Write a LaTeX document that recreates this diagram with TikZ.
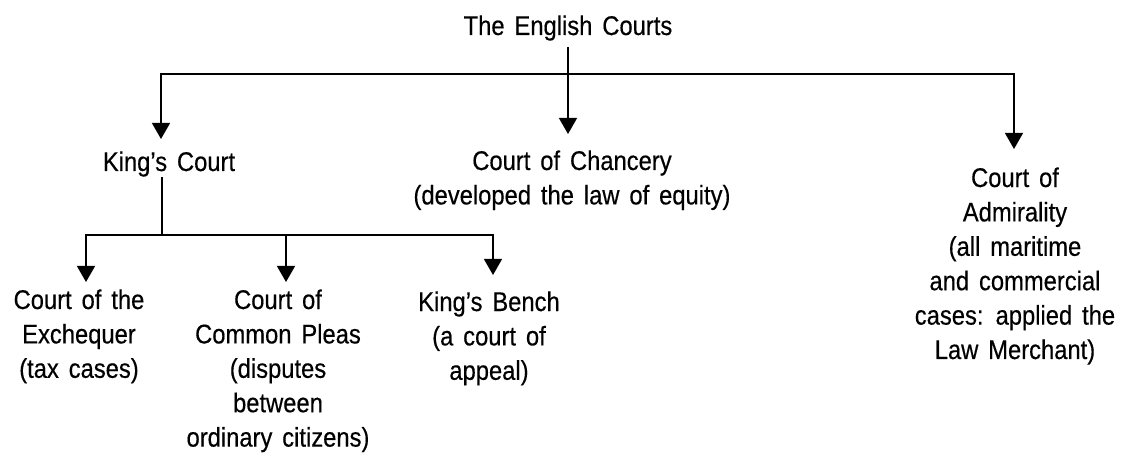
\documentclass[tikz,border=0pt]{standalone}
\usepackage{fontspec}
\setmainfont{Liberation Sans}[FakeStretch=0.88,WordSpace=1.5,FakeBold=0.4]
\usetikzlibrary{arrows.meta}
\begin{document}
\begin{tikzpicture}[x=1pt,y=-1pt,
  label/.style={inner sep=0pt,anchor=base,align=center,
    font=\fontsize{27}{34.4}\selectfont},
  link/.style={line width=1.3pt,draw=black},
  arr/.style={link,-{Triangle[width=18pt,length=16pt]}}]
\useasboundingbox (0,0) rectangle (1125,454);

% texts (each placed by the baseline of its last line)
\node[label] (T)  at (568,35)     {The English Courts};
\node[label] (KC) at (169,171)    {King’s Court};
\node[label] (CH) at (572,204.4)  {Court of Chancery\\(developed the law of equity)};
\node[label] (AD) at (1015,359)   {Court of\\Admirality\\(all maritime\\and commercial\\cases: applied the\\Law Merchant)};
\node[label] (EX) at (79,377.8)   {Court of the\\Exchequer\\(tax cases)};
\node[label] (CP) at (278,446.6)  {Court of\\Common Pleas\\(disputes\\between\\ordinary citizens)};
\node[label] (KB) at (489,379.8)  {King’s Bench\\(a court of\\appeal)};

% junctions and arrow tips
\coordinate (hbar)  at (568,74);
\coordinate (tipKC) at (161,139);
\coordinate (tipCH) at (568,134);
\coordinate (tipAD) at (1014,149);
\coordinate (kbar)  at (162,235);
\coordinate (tipEX) at (86,282);
\coordinate (tipCP) at (286,282);
\coordinate (tipKB) at (493,275);

% top level
\draw[arr] (T.south -| hbar) ++(0,6) -- (tipCH);
\draw[arr] (hbar) -| (tipKC);
\draw[arr] (hbar) -| (tipAD);

% branches of the King's Court
\draw[link] (KC.south -| kbar) -- (kbar);
\draw[arr] (kbar) -| (tipEX);
\draw[arr] (kbar) -| (tipCP);
\draw[arr] (kbar) -| (tipKB);
\end{tikzpicture}
\end{document}
